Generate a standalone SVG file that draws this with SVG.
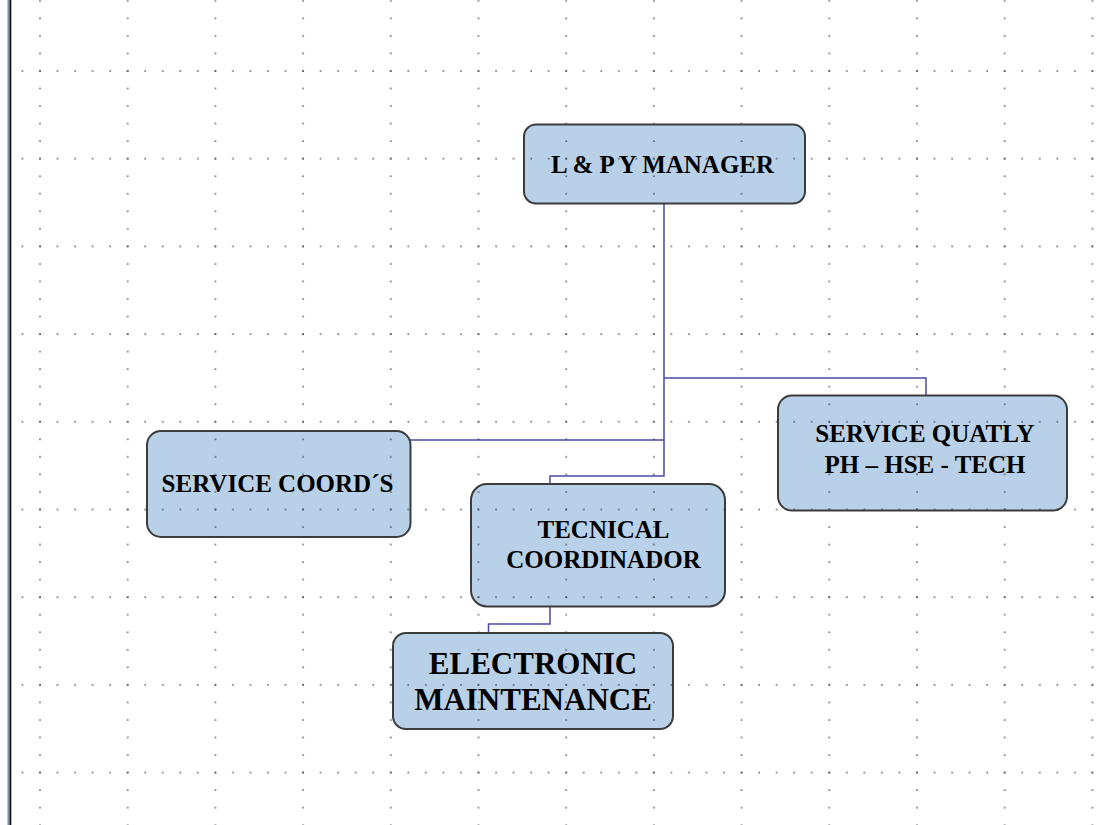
<svg xmlns="http://www.w3.org/2000/svg" width="1108" height="825" viewBox="0 0 1108 825">
<style>
.box{fill:#b9d1e8;stroke:#3c3c3c;stroke-width:2}
.lbl{font-family:"Liberation Serif","Times New Roman",serif;font-weight:bold;font-size:25px;fill:#000;text-anchor:middle}
.big{font-size:31px}
.conn{fill:none;stroke:#4a4aa8;stroke-width:1.5}
.dot{fill:#3a3a3a}
</style>
<defs>
<pattern id="cols" patternUnits="userSpaceOnUse" x="35" y="66" width="87.7" height="17.54">
<rect class="dot" x="4.3" y="4.3" width="1.4" height="1.4"/>
</pattern>
<pattern id="rows" patternUnits="userSpaceOnUse" x="35" y="66" width="17.54" height="87.7">
<rect class="dot" x="4.3" y="4.3" width="1.4" height="1.4"/>
</pattern>
</defs>
<rect x="0" y="0" width="1108" height="825" fill="#ffffff"/>
<rect x="7.5" y="0" width="2" height="825" fill="#8090a8"/>
<rect x="9.5" y="0" width="1.8" height="825" fill="#111"/>

<g id="connectors">
<polyline class="conn" points="664,204 664,476 550,476 550,484"/>
<polyline class="conn" points="664,378 926,378 926,395"/>
<polyline class="conn" points="410,440 664,440"/>
<polyline class="conn" points="550,607 550,624 488.5,624 488.5,633"/>
</g>

<g id="node-manager">
<rect class="box" x="524" y="124.5" width="281" height="79" rx="12"/>
<text class="lbl" x="662.5" y="172.5">L &amp; P Y MANAGER</text>
</g>
<g id="node-service-coords">
<rect class="box" x="147" y="431" width="263.5" height="106" rx="14"/>
<text class="lbl" x="277.5" y="492">SERVICE COORD´S</text>
</g>
<g id="node-service-quatly">
<rect class="box" x="778" y="395.5" width="289" height="115" rx="14"/>
<text class="lbl" x="925" y="442">SERVICE QUATLY</text>
<text class="lbl" x="925" y="473">PH – HSE - TECH</text>
</g>
<g id="node-tecnical">
<rect class="box" x="471" y="484" width="254" height="122.5" rx="16"/>
<text class="lbl" x="603.5" y="538">TECNICAL</text>
<text class="lbl" x="603.5" y="568">COORDINADOR</text>
</g>
<g id="node-electronic">
<rect class="box" x="393" y="633" width="280" height="96" rx="13"/>
<text class="lbl big" x="533" y="674">ELECTRONIC</text>
<text class="lbl big" x="533" y="710">MAINTENANCE</text>
</g>

<g id="grid">
<rect x="12" y="0" width="1096" height="825" fill="url(#cols)"/>
<rect x="12" y="0" width="1096" height="825" fill="url(#rows)"/>
</g>
</svg>
